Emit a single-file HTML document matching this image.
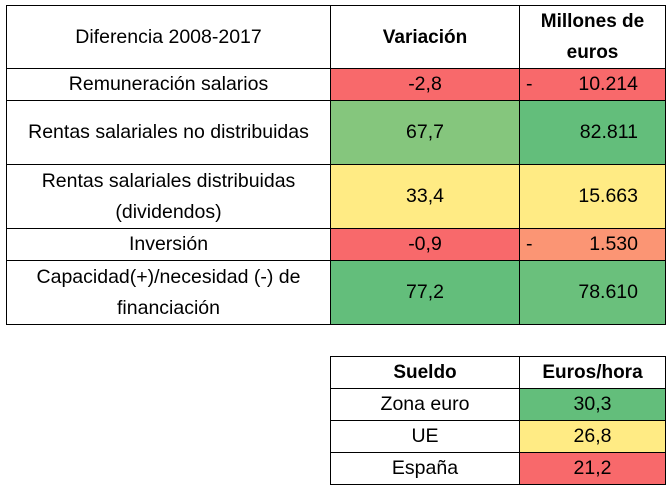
<!DOCTYPE html>
<html><head><meta charset="utf-8"><style>
body{margin:0;width:671px;height:489px;background:#fff;position:relative;font-family:"Liberation Sans",sans-serif;font-size:19.5px;color:#000;overflow:hidden}
.c{position:absolute;box-sizing:border-box;border:1px solid #000;display:flex;align-items:center;justify-content:center;text-align:center;line-height:31px}
.b{font-weight:bold;font-size:19px}
.r{background:#F8696B}.g1{background:#85C67D}.g2{background:#63BE7B}.y{background:#FFEB84}.o{background:#FB9574}.g3{background:#6AC07C}
.m{justify-content:flex-end;padding-right:27px}
.m span{position:absolute;left:6px}
</style></head><body>
<div class="c" style="left:6px;top:5px;width:325px;height:64px">Diferencia 2008-2017</div>
<div class="c b" style="left:330px;top:5px;width:190px;height:64px">Variación</div>
<div class="c b" style="left:519px;top:5px;width:147px;height:64px">Millones de<br>euros</div>

<div class="c" style="left:6px;top:68px;width:325px;height:33px">Remuneración salarios</div>
<div class="c r" style="left:330px;top:68px;width:190px;height:33px">-2,8</div>
<div class="c r m" style="left:519px;top:68px;width:147px;height:33px"><span>-</span>10.214</div>

<div class="c" style="left:6px;top:100px;width:325px;height:65px">Rentas salariales no distribuidas</div>
<div class="c g1" style="left:330px;top:100px;width:190px;height:65px">67,7</div>
<div class="c g2 m" style="left:519px;top:100px;width:147px;height:65px">82.811</div>

<div class="c" style="left:6px;top:164px;width:325px;height:65px">Rentas salariales distribuidas<br>(dividendos)</div>
<div class="c y" style="left:330px;top:164px;width:190px;height:65px">33,4</div>
<div class="c y m" style="left:519px;top:164px;width:147px;height:65px">15.663</div>

<div class="c" style="left:6px;top:228px;width:325px;height:33px">Inversión</div>
<div class="c r" style="left:330px;top:228px;width:190px;height:33px">-0,9</div>
<div class="c o m" style="left:519px;top:228px;width:147px;height:33px"><span>-</span>1.530</div>

<div class="c" style="left:6px;top:260px;width:325px;height:65px">Capacidad(+)/necesidad (-) de<br>financiación</div>
<div class="c g2" style="left:330px;top:260px;width:190px;height:65px">77,2</div>
<div class="c g3 m" style="left:519px;top:260px;width:147px;height:65px">78.610</div>

<div class="c b" style="left:330px;top:356px;width:190px;height:33px">Sueldo</div>
<div class="c b" style="left:519px;top:356px;width:147px;height:33px">Euros/hora</div>
<div class="c" style="left:330px;top:388px;width:190px;height:33px">Zona euro</div>
<div class="c g2" style="left:519px;top:388px;width:147px;height:33px">30,3</div>
<div class="c" style="left:330px;top:420px;width:190px;height:33px">UE</div>
<div class="c y" style="left:519px;top:420px;width:147px;height:33px">26,8</div>
<div class="c" style="left:330px;top:452px;width:190px;height:33px">España</div>
<div class="c r" style="left:519px;top:452px;width:147px;height:33px">21,2</div>
</body></html>
